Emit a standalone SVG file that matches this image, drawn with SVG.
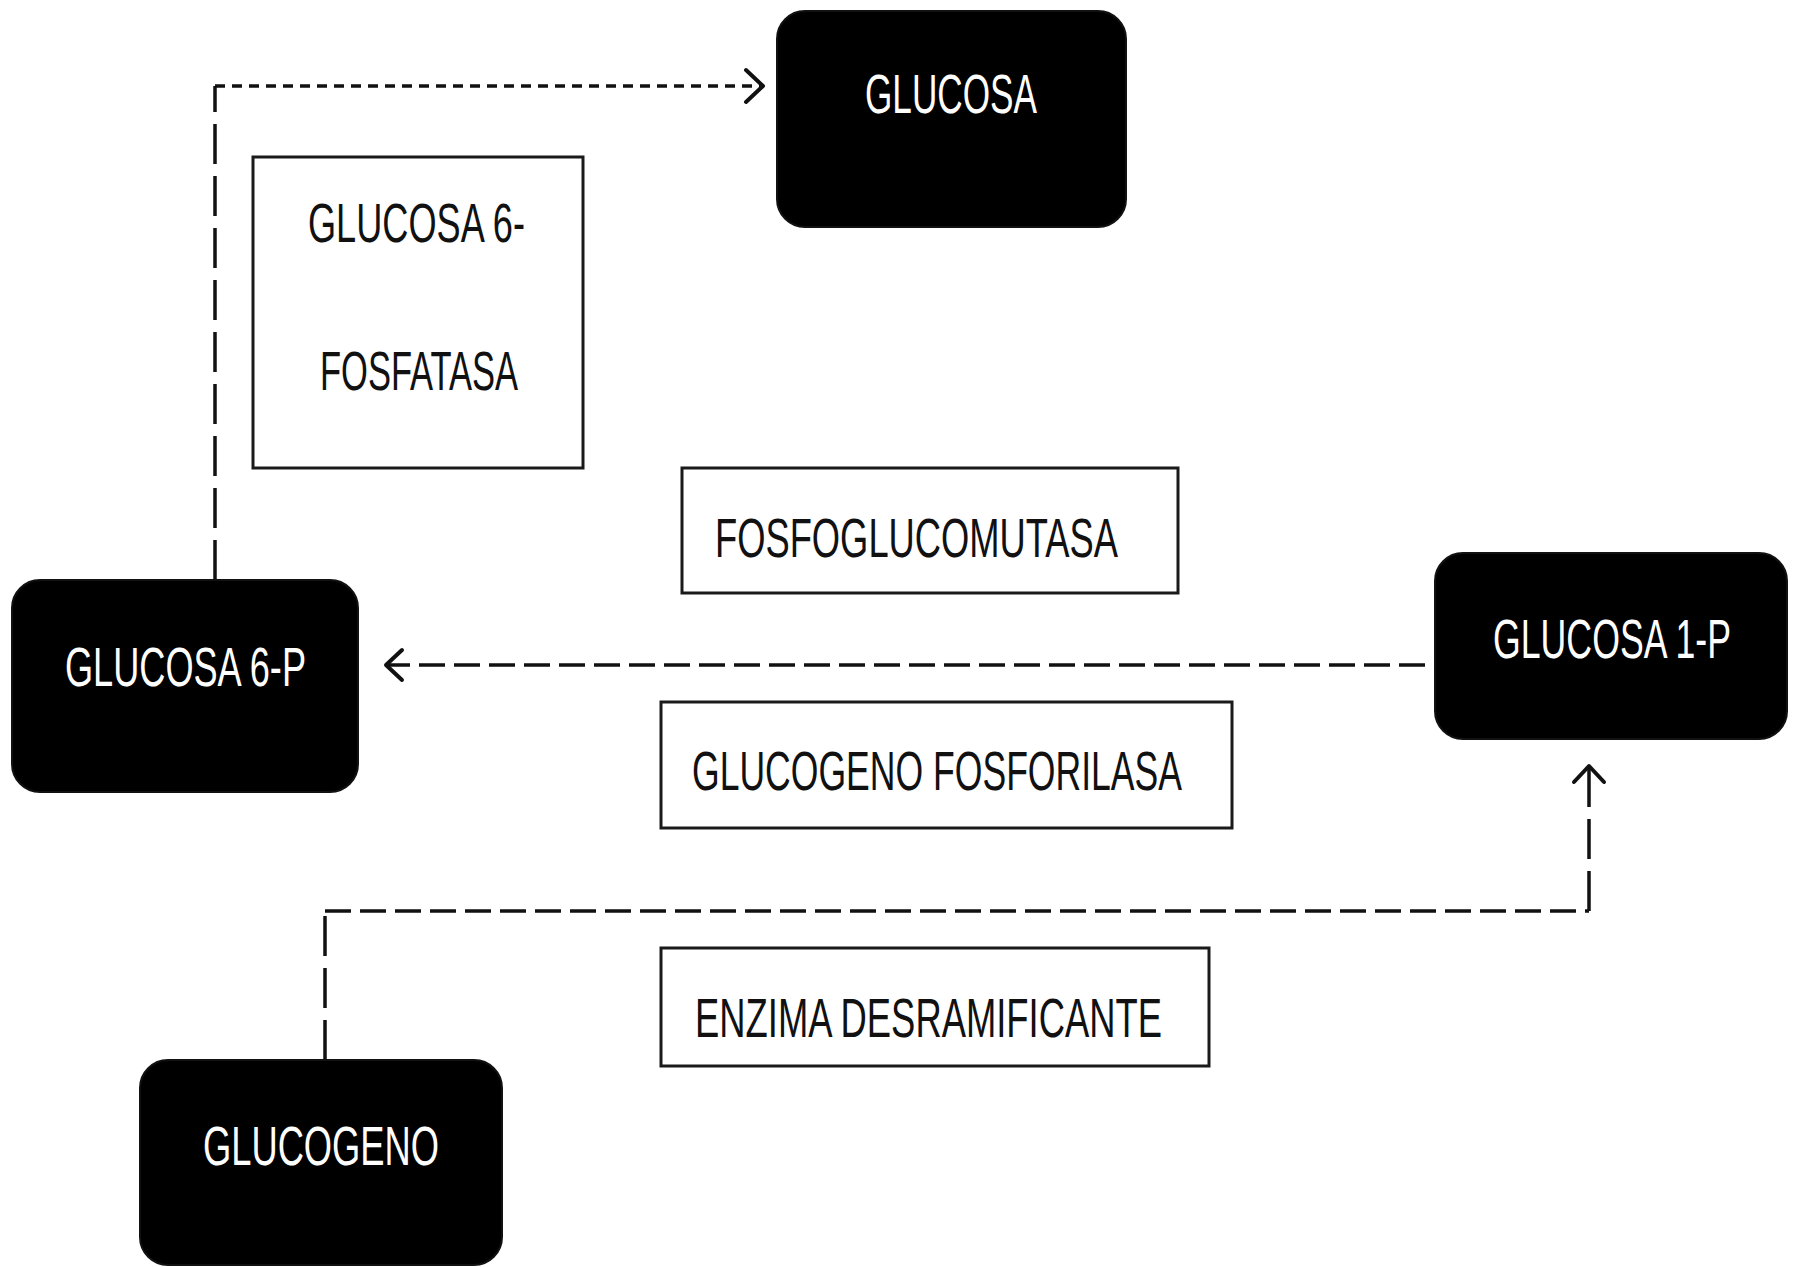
<svg xmlns="http://www.w3.org/2000/svg" width="1798" height="1267" viewBox="0 0 1798 1267">
  <defs>
    <style>
      .dark { fill: #000; stroke: #111; stroke-width: 2; }
      .enz { fill: #fff; stroke: #1a1a1a; stroke-width: 3; }
      .t { font-family: "Liberation Sans", Arial, sans-serif; font-size: 56px; }
      .tw { fill: #fff; }
      .tb { fill: #111; }
      .ln { fill: none; stroke: #111; stroke-width: 3.5; }
      .hs { stroke-dasharray: 10 7; }
      .hl { stroke-dasharray: 26 9; }
      .vl { stroke-dasharray: 40 12; }
      .ah { fill: none; stroke: #111; stroke-width: 4; stroke-linecap: round; stroke-linejoin: round; }
    </style>
  </defs>
  <rect width="1798" height="1267" fill="#fff"/>

  <g id="connectors">
    <!-- GLUCOSA 6-P to GLUCOSA -->
    <path class="ln vl" d="M215 580 V86"/>
    <path class="ln hs" d="M215 86 H760"/>
    <path class="ah" d="M746 70 L763 86 L746 102"/>
    <!-- GLUCOSA 1-P to GLUCOSA 6-P -->
    <path class="ln hl" d="M1425 665 H387"/>
    <path class="ah" d="M402 650 L386 665 L402 680"/>
    <!-- GLUCOGENO to GLUCOSA 1-P -->
    <path class="ln vl" d="M325 1060 V911"/>
    <path class="ln hl" d="M325 911 H1589"/>
    <path class="ln vl" d="M1589 911 V767"/>
    <path class="ah" d="M1574 782 L1589 766 L1604 782"/>
  </g>

  <g id="node-glucosa">
    <rect class="dark" x="777" y="11" width="349" height="216" rx="28"/>
    <text class="t tw" x="865" y="113" textLength="172" lengthAdjust="spacingAndGlyphs">GLUCOSA</text>
  </g>

  <g id="node-glucosa6fosfatasa">
    <rect class="enz" x="253" y="157" width="330" height="311"/>
    <text class="t tb" x="308" y="242" textLength="217" lengthAdjust="spacingAndGlyphs">GLUCOSA 6-</text>
    <text class="t tb" x="320" y="390" textLength="198" lengthAdjust="spacingAndGlyphs">FOSFATASA</text>
  </g>

  <g id="node-fosfoglucomutasa">
    <rect class="enz" x="682" y="468" width="496" height="125"/>
    <text class="t tb" x="715" y="557" textLength="403" lengthAdjust="spacingAndGlyphs">FOSFOGLUCOMUTASA</text>
  </g>

  <g id="node-glucosa1p">
    <rect class="dark" x="1435" y="553" width="352" height="186" rx="28"/>
    <text class="t tw" x="0" y="0" text-anchor="middle" transform="translate(1612 658) scale(0.6375 1)">GLUCOSA 1-P</text>
  </g>

  <g id="node-glucosa6p">
    <rect class="dark" x="12" y="580" width="346" height="212" rx="28"/>
    <text class="t tw" x="65" y="686" textLength="241" lengthAdjust="spacingAndGlyphs">GLUCOSA 6-P</text>
  </g>

  <g id="node-glucogenofosforilasa">
    <rect class="enz" x="661" y="702" width="571" height="126"/>
    <text class="t tb" x="692" y="790" textLength="490" lengthAdjust="spacingAndGlyphs">GLUCOGENO FOSFORILASA</text>
  </g>

  <g id="node-enzimadesramificante">
    <rect class="enz" x="661" y="948" width="548" height="118"/>
    <text class="t tb" x="695" y="1037" textLength="467" lengthAdjust="spacingAndGlyphs">ENZIMA DESRAMIFICANTE</text>
  </g>

  <g id="node-glucogeno">
    <rect class="dark" x="140" y="1060" width="362" height="205" rx="28"/>
    <text class="t tw" x="203" y="1165" textLength="236" lengthAdjust="spacingAndGlyphs">GLUCOGENO</text>
  </g>
</svg>
